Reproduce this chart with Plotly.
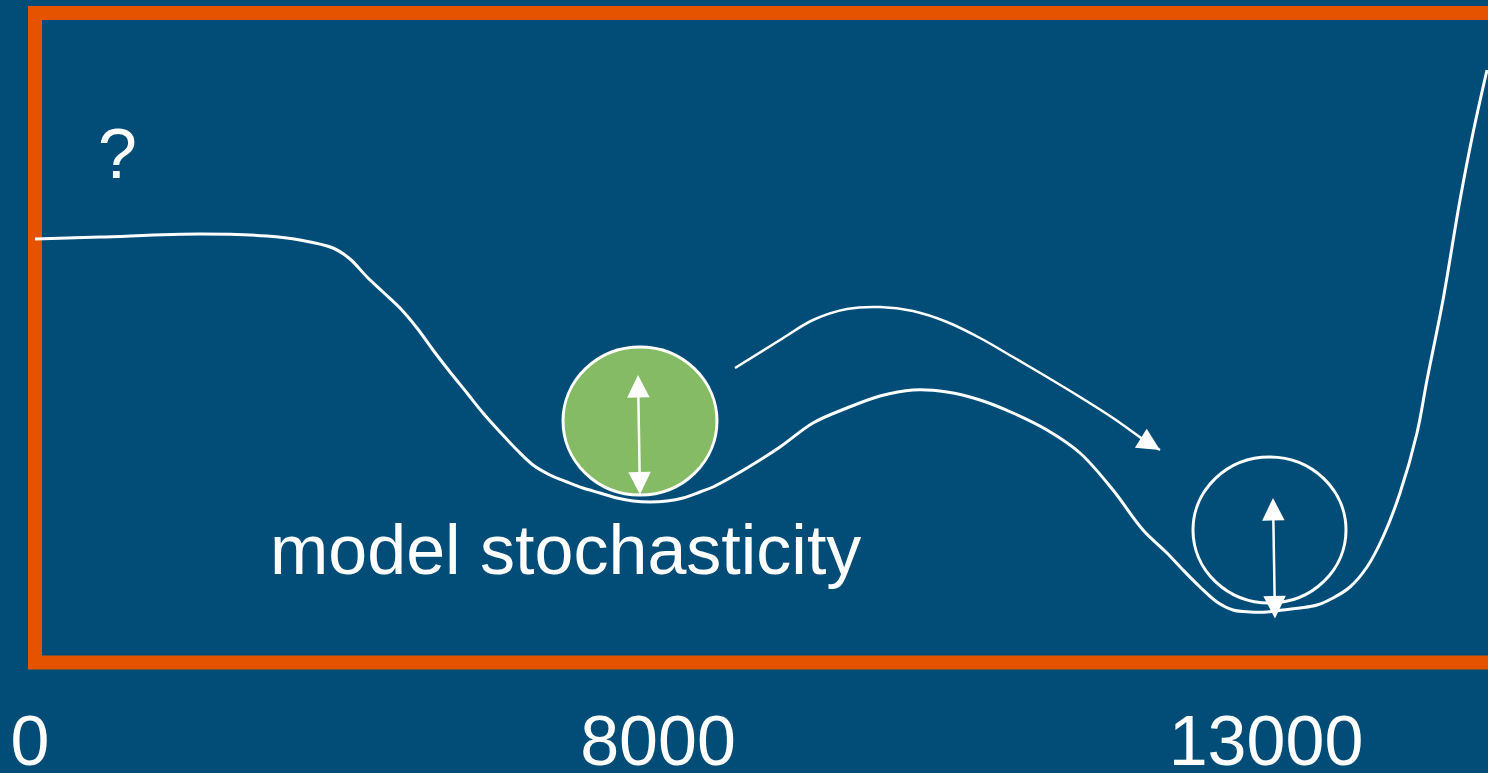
import plotly.graph_objects as go

# loss landscape (x = position along the run, loss = height)
landscape_x = [35, 100, 200, 267, 300, 333, 350, 367, 383, 400, 417, 433, 450, 467, 483,
               500, 517, 533, 550, 567, 583, 600, 617, 633, 650, 667, 683, 700, 713, 747,
               780, 813, 847, 880, 913, 947, 980, 1013, 1047, 1080, 1113, 1143, 1167, 1183, 1200,
               1217, 1233, 1250, 1267, 1283, 1300, 1317, 1333, 1350, 1367, 1383, 1400, 1417, 1427, 1443,
               1460, 1473, 1487]
landscape_loss = [424, 426, 429, 427, 423, 415, 404, 386, 371, 355, 335, 313, 291, 270, 250,
                  231, 213, 198, 188, 181, 175, 170, 165, 162, 161, 162, 165, 171, 176, 195,
                  216, 240, 255, 267, 273, 271, 263, 250, 233, 210, 173, 133, 110, 93, 76,
                  61, 53, 51, 51, 53, 55, 58, 65, 76, 96, 126, 170, 230, 283, 363,
                  463, 530, 593]

# jump path between the two minima
jump_x = [735, 780, 813, 847, 880, 913, 947, 980, 1013, 1047, 1080, 1113, 1147, 1160]
jump_loss = [295, 323, 343, 354, 356, 352, 341, 325, 306, 286, 266, 245, 221, 213]

# balls sitting in the minima
ball_x = [640, 1269.5]
ball_loss = [242, 133]
ball_rx = [77, 76.5]
ball_ry = [74, 73]
ball_fill = ["#85BB65", "rgba(0,0,0,0)"]

# stochasticity arrows (top tip, bottom tip)
spread_x_top = [638, 1273]
spread_loss_top = [288, 165]
spread_x_bot = [640, 1275]
spread_loss_bot = [167, 43]

tick_pos = [30, 658, 1266]
tick_text = ["0", "8000", "13000"]

BG = "#014D78"
ORANGE = "#E65300"
FONT = "Liberation Sans, Arial, sans-serif"

fig = go.Figure()

fig.add_trace(go.Scatter(x=landscape_x, y=landscape_loss, mode="lines",
                         line=dict(color="white", width=3, shape="spline", smoothing=1.0),
                         hoverinfo="skip"))
fig.add_trace(go.Scatter(x=jump_x, y=jump_loss, mode="lines",
                         line=dict(color="white", width=2.5, shape="spline", smoothing=1.0),
                         hoverinfo="skip"))

for cx, cy, rx, ry, fc in zip(ball_x, ball_loss, ball_rx, ball_ry, ball_fill):
    fig.add_shape(type="circle", xref="x", yref="y",
                  x0=cx - rx, x1=cx + rx, y0=cy - ry, y1=cy + ry,
                  fillcolor=fc, line=dict(color="white", width=3))

for xt, yt, xb, yb in zip(spread_x_top, spread_loss_top, spread_x_bot, spread_loss_bot):
    fig.add_annotation(x=xt, y=yt, ax=xb, ay=yb, xref="x", yref="y", axref="x", ayref="y",
                       text="", showarrow=True, arrowhead=2, startarrowhead=2,
                       arrowside="end+start", arrowsize=1.8, startarrowsize=1.8,
                       arrowwidth=2.5, arrowcolor="white", standoff=0, startstandoff=0)

# head of the jump arrow, along the last segment
fig.add_annotation(x=jump_x[-1], y=jump_loss[-1], ax=jump_x[-2], ay=jump_loss[-2],
                   xref="x", yref="y", axref="x", ayref="y", text="", showarrow=True,
                   arrowhead=2, arrowsize=1.8, arrowwidth=2.5, arrowcolor="white", standoff=0)

fig.add_annotation(x=117, y=509, xref="x", yref="y", text="?", showarrow=False,
                   font=dict(size=70, color="white", family=FONT))
fig.add_annotation(x=268, y=113, xref="x", yref="y", text="model stochasticity",
                   showarrow=False, xanchor="left",
                   font=dict(size=70, color="white", family=FONT))

# orange frame
fig.add_shape(type="rect", xref="paper", yref="paper",
              x0=35 / 1488, x1=1.02, y0=0.0008, y1=1 - 13 / 663,
              line=dict(color=ORANGE, width=14), fillcolor="rgba(0,0,0,0)", layer="below")

fig.update_xaxes(range=[0, 1488], tickvals=tick_pos, ticktext=tick_text,
                 showgrid=False, zeroline=False, showline=False, ticks="",
                 ticklabelstandoff=31, automargin=False,
                 tickfont=dict(size=70, color="white", family=FONT))
fig.update_yaxes(range=[0, 663], showgrid=False, zeroline=False, showticklabels=False,
                 automargin=False)

fig.update_layout(width=1488, height=773, margin=dict(l=0, r=0, t=0, b=110),
                  paper_bgcolor=BG, plot_bgcolor=BG, showlegend=False)

fig.write_html("out.html", config={"displayModeBar": False},
               post_script="document.body.style.margin='0';")
